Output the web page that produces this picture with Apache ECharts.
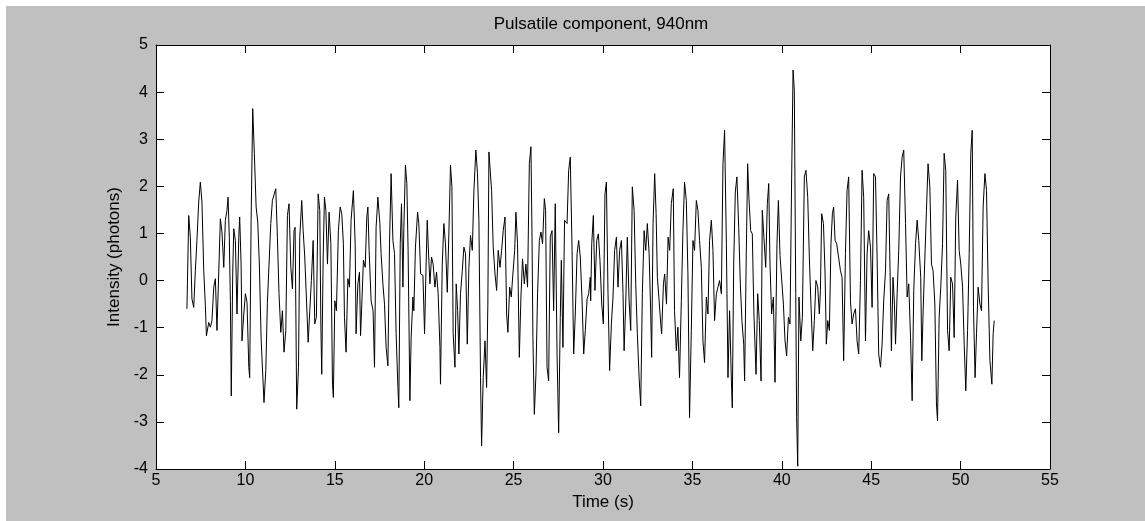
<!DOCTYPE html>
<html>
<head>
<meta charset="utf-8">
<script src="https://cdn.jsdelivr.net/npm/echarts@6/dist/echarts.min.js"></script>
<style>
  html, body { margin: 0; padding: 0; background: #ffffff; }
  #chart { position: absolute; left: 6px; top: 6px; width: 1139px; height: 515px; background: #c0c0c0; }
</style>
</head>
<body>
<div id="chart"></div>
<script>
// values
const titleText = 'Pulsatile component, 940nm'
const xName = 'Time (s)'
const yName = 'Intensity (photons)'
const xRange = [5, 55]
const yRange = [-4, 5]

// time (s)
const timeS = [
  6.73, 6.83, 6.92, 7.01, 7.11, 7.20, 7.29, 7.39, 7.48, 7.57, 7.67, 7.76, 7.82, 7.95, 8.04, 8.13, 8.23, 8.32, 8.41, 8.51,
  8.60, 8.69, 8.79, 8.88, 8.97, 9.03, 9.10, 9.16, 9.21, 9.29, 9.35, 9.44, 9.53, 9.63, 9.68, 9.76, 9.81, 9.91, 10.00, 10.09,
  10.19, 10.24, 10.32, 10.41, 10.50, 10.60, 10.69, 10.78, 10.88,
  11.04, 11.14, 11.23, 11.32, 11.42, 11.51, 11.70, 11.79, 11.88, 11.98, 12.07, 12.16, 12.26, 12.35, 12.44, 12.54, 12.63, 12.72, 12.78, 12.82,
  12.87, 12.97, 13.04, 13.15, 13.23, 13.32, 13.41, 13.51, 13.60, 13.69, 13.79, 13.88, 13.97, 14.07, 14.16, 14.22, 14.27, 14.35, 14.42, 14.50,
  14.59, 14.68, 14.78, 14.87, 14.92, 15.00, 15.09, 15.20, 15.30, 15.39, 15.48, 15.54,
  15.63, 15.73, 15.82, 15.91, 16.04, 16.14, 16.19, 16.29, 16.38, 16.44, 16.51, 16.60, 16.70, 16.79, 16.85, 16.92, 17.03, 17.14, 17.22, 17.31,
  17.41, 17.52, 17.59, 17.69, 17.78, 17.87, 17.97, 18.06, 18.15, 18.25, 18.34, 18.43, 18.53, 18.58, 18.66, 18.73, 18.81, 18.86, 18.95, 19.03,
  19.10, 19.20, 19.27, 19.37, 19.42, 19.51, 19.63, 19.70, 19.80, 19.93, 20.02, 20.11,
  20.17, 20.22, 20.32, 20.41, 20.50, 20.60, 20.69, 20.78, 20.88, 20.91, 21.01, 21.10, 21.19, 21.29, 21.38, 21.47, 21.55, 21.62, 21.72, 21.79,
  21.87, 21.94, 22.03, 22.13, 22.22, 22.31, 22.41, 22.50, 22.59, 22.69, 22.78, 22.89, 22.98, 23.06, 23.15, 23.21, 23.30, 23.40, 23.49, 23.56,
  23.62, 23.69, 23.77, 23.86, 23.96, 24.05, 24.14, 24.24, 24.33, 24.42, 24.52, 24.61, 24.68,
  24.72, 24.78, 24.87, 24.96, 25.06, 25.13, 25.22, 25.32, 25.41, 25.50, 25.60, 25.69, 25.78, 25.88, 25.97, 26.03, 26.08, 26.16, 26.25, 26.34,
  26.44, 26.53, 26.62, 26.72, 26.79, 26.87, 26.96, 27.05, 27.15, 27.24, 27.33, 27.43, 27.52, 27.61, 27.67, 27.76, 27.85, 27.99, 28.08, 28.17,
  28.27, 28.36, 28.45, 28.55, 28.64, 28.73, 28.83, 28.92, 29.01, 29.11, 29.20, 29.29,
  29.31, 29.37, 29.46, 29.55, 29.65, 29.74, 29.83, 29.93, 30.02, 30.11, 30.19, 30.28, 30.37, 30.47, 30.56, 30.65, 30.75, 30.84, 30.93, 31.03,
  31.12, 31.18, 31.27, 31.36, 31.46, 31.55, 31.64, 31.74, 31.83, 31.92, 32.02, 32.11, 32.20, 32.30, 32.39, 32.48, 32.58, 32.67, 32.72, 32.80,
  32.89, 32.97, 33.04, 33.14, 33.23, 33.28, 33.38, 33.45, 33.55, 33.64, 33.73, 33.82,
  33.93, 34.00, 34.10, 34.19, 34.28, 34.38, 34.47, 34.56, 34.66, 34.75, 34.84, 34.94, 35.03, 35.12, 35.22, 35.31, 35.40, 35.50, 35.59, 35.68,
  35.78, 35.87, 35.96, 36.06, 36.15, 36.24, 36.34, 36.43, 36.52, 36.62, 36.71, 36.80, 36.90, 36.99, 37.08, 37.18, 37.23, 37.31, 37.40, 37.49,
  37.59, 37.68, 37.77, 37.87, 37.92, 38.01, 38.09, 38.16, 38.26, 38.35, 38.44,
  38.50, 38.56, 38.65, 38.74, 38.84, 38.91, 39.00, 39.10, 39.19, 39.27, 39.34, 39.43, 39.53, 39.62, 39.73, 39.81, 39.90, 39.99, 40.09, 40.18,
  40.27, 40.37, 40.46, 40.55, 40.63, 40.70, 40.78, 40.83, 40.89, 40.96, 41.06, 41.15, 41.26, 41.35, 41.45, 41.54, 41.63, 41.73, 41.82, 41.91,
  42.01, 42.10, 42.16, 42.23, 42.33, 42.42, 42.49, 42.57, 42.66, 42.75, 42.83, 42.90, 42.98, 43.07,
  43.18, 43.28, 43.37, 43.46, 43.56, 43.65, 43.74, 43.84, 43.93, 44.02, 44.12, 44.21, 44.30, 44.40, 44.49, 44.58, 44.68, 44.77, 44.86, 44.96,
  45.05, 45.14, 45.24, 45.33, 45.42, 45.52, 45.61, 45.70, 45.80, 45.89, 45.98, 46.08, 46.13, 46.22, 46.30, 46.36, 46.45, 46.54, 46.64, 46.73,
  46.82, 46.92, 47.01, 47.10, 47.20, 47.29, 47.38, 47.48, 47.57, 47.66,
  47.77, 47.83, 47.90, 47.99, 48.09, 48.18, 48.28, 48.37, 48.46, 48.56, 48.65, 48.71, 48.80, 48.89, 48.99, 49.08, 49.17, 49.27, 49.36, 49.45,
  49.55, 49.64, 49.73, 49.83, 49.92, 50.01, 50.11, 50.20, 50.29, 50.39, 50.48, 50.57, 50.65, 50.72, 50.81, 50.89, 50.98, 51.08, 51.17, 51.26,
  51.36, 51.45, 51.54, 51.64, 51.75, 51.82, 51.88
]

// intensity (photons)
const intensity = [
  -0.60, 1.38, 0.92, -0.39, -0.57, 0.21, 0.85, 1.67, 2.09, 1.67, 0.21, -0.53, -1.17, -0.89, -0.99, -0.85, -0.14, 0.04, -1.06, 0.18,
  1.31, 1.03, 0.28, 1.28, 1.49, 1.77, 0.92, -0.43, -2.45, 0.14, 1.10, 0.85, -0.71, 0.92, 1.35, 0.35, -1.28, -0.71, -0.28, -0.46,
  -1.84, -2.06, 1.28, 3.65, 2.70, 1.56, 1.24, 0.35, -1.24,
  -2.59, -1.91, -0.46, -0.50, 1.21, 1.70, 1.95, 0.92, -0.28, -1.10, -0.64, -1.52, -1.06, 1.38, 1.63, 0.28, -0.18, 1.06, 1.13, -0.57,
  -2.73, -1.84, 0.92, 1.70, 1.06, 0.50, -0.35, -1.31, -0.64, 0.00, 0.85, -0.92, -0.78, 1.84, 1.49, -0.92, -1.99, 0.50, 1.77, 1.49,
  0.35, 1.45, 0.78, -2.20, -2.48, -0.43, -0.64, 1.06, 1.56, 1.42, 0.78, -0.78,
  -1.52, 0.04, -0.14, 1.28, 1.91, 0.78, -1.13, -0.07, 0.18, -1.17, -0.50, 0.43, 0.28, 1.35, 1.56, 0.64, -0.43, -0.64, -1.84, 1.13,
  1.77, 1.21, 0.57, -0.07, -0.50, -1.42, -1.81, 0.78, 2.27, 0.85, 0.57, -1.13, -2.27, -2.70, 0.78, 1.63, -0.14, 1.10, 2.45, 2.06,
  0.64, -2.55, -1.21, -0.35, -0.64, 0.71, 1.45, 1.21, 0.14, 0.11, -1.13, 0.39,
  1.28, 0.78, -0.07, 0.50, 0.35, -0.14, 0.18, -0.28, -1.42, -2.20, 0.35, 1.21, 0.78, -0.25, 0.99, 2.45, 1.99, -1.13, -1.84, -0.07,
  -0.64, -1.56, -0.28, 0.21, 0.71, 0.57, -1.35, 0.28, 0.96, 0.64, 1.91, 2.77, 2.27, 1.28, -2.06, -3.51, -2.06, -1.28, -2.27, -0.50,
  2.73, 2.77, 1.91, 0.71, 0.14, -0.21, 0.64, 0.28, 0.64, 1.06, 1.35, -0.71, -1.10,
  -1.13, -0.14, -0.35, 0.14, 0.64, 1.45, 0.78, -1.63, -0.35, 0.46, -0.07, 0.35, -0.14, 2.48, 2.84, 0.92, -1.21, -2.84, -1.99, -0.28,
  0.85, 1.03, 0.78, 1.74, 1.49, -1.84, -2.13, 0.92, 1.06, -0.64, 1.63, -1.56, -3.23, -0.78, 0.43, -1.42, 1.28, 1.21, 2.34, 2.62,
  0.64, -1.56, -0.71, 0.57, 0.85, 0.50, -0.43, -1.56, -1.06, -0.39, -0.28, 0.07,
  -0.43, 0.78, 1.38, -0.21, 0.85, 0.99, 0.43, -0.50, -0.92, 1.84, 2.09, -0.28, -1.91, -0.92, -0.35, 0.64, 0.92, -0.14, 0.64, 0.85,
  -0.28, -1.49, -0.50, 0.92, -0.43, -1.06, 1.99, 1.49, -0.07, -1.13, -2.06, -2.66, -0.28, 1.06, 0.64, 1.21, 0.57, -0.71, -1.63, 1.21,
  2.27, 1.42, 0.07, -0.43, -0.92, -1.13, -0.07, 0.14, -0.50, 0.92, 0.64, 1.63,
  1.95, -0.64, -1.49, -0.99, -2.06, -0.43, 1.06, 2.09, 1.70, 0.14, -2.91, -1.06, 0.85, 0.64, 1.70, 1.49, 0.85, 0.28, -1.28, -1.74,
  -0.35, -0.71, 0.85, 1.28, 0.64, -0.85, -0.28, -0.14, 0.00, -0.28, 2.48, 3.19, 0.78, -2.06, -0.64, -2.13, -2.70, 0.35, 1.88, 2.20,
  1.13, -0.07, -0.85, -1.35, -2.13, 0.50, 2.48, 1.77, 1.06, 0.99, -0.71,
  -0.71, -1.99, -0.28, -0.85, -2.13, 1.49, 0.92, 0.28, 1.63, 2.06, 0.35, -0.71, -0.35, -2.16, 0.78, 1.70, 0.53, 0.50, -0.50, -1.28,
  -1.60, -0.78, -0.92, 2.16, 4.47, 4.04, -0.28, -2.91, -3.94, -0.35, -1.28, -0.78, 2.20, 2.34, 1.77, 0.50, -0.50, -1.49, -0.85, 0.00,
  -0.14, -0.71, -0.21, 1.42, 1.21, 0.14, -1.35, -0.85, -1.06, 0.78, 1.42, 1.56, 0.85, 0.78,
  0.78, 0.21, 0.07, -1.70, 0.57, 1.91, 2.20, -0.43, -0.92, -0.71, -0.60, -1.28, -1.56, 0.00, 2.34, 1.77, -1.28, 0.57, 1.06, 0.71,
  -0.57, 2.27, 2.20, 0.50, -1.56, -1.84, -1.35, -0.43, 0.21, 1.70, 1.84, -0.35, -1.49, 0.07, -0.50, -1.35, -0.28, 0.64, 2.20, 2.62,
  2.77, 1.21, -0.35, -0.07, -1.21, -2.55, -0.21, 0.78, 1.28, 0.85,
  0.07, -1.70, -0.71, 0.35, 1.49, 2.48, 1.99, 0.35, 0.21, -0.50, -2.62, -2.98, -0.78, -0.14, 0.78, 2.70, 2.34, -1.06, -1.49, 0.07,
  -0.07, -1.21, 1.35, 2.13, 0.64, 0.35, -0.14, -1.35, -2.34, -1.06, 0.57, 2.70, 3.19, -0.57, -2.06, -1.13, -0.14, -0.50, -0.64, 1.56,
  2.27, 1.91, -0.07, -1.70, -2.20, -1.13, -0.85
]

const seriesData = timeS.map((t, i) => [t, intensity[i]])

const font = 'Liberation Sans, Arial, Helvetica, sans-serif'
const tickStyle = { show: true, inside: true, length: 8, lineStyle: { color: '#000', width: 1 } }
const lineCol = { color: '#000', width: 1 }

const chart = echarts.init(document.getElementById('chart'))
chart.setOption({
  animation: false,
  backgroundColor: '#c0c0c0',
  graphic: [{
    type: 'text',
    x: 595,
    y: 18,
    style: {
      text: titleText,
      font: '17px ' + font,
      fill: '#000',
      textAlign: 'center',
      textVerticalAlign: 'middle'
    }
  }],
  grid: {
    left: 150,
    top: 39,
    width: 894,
    height: 424,
    show: true,
    backgroundColor: '#ffffff',
    borderWidth: 0
  },
  xAxis: [{
    type: 'value',
    min: xRange[0],
    max: xRange[1],
    interval: 5,
    position: 'bottom',
    name: xName,
    nameLocation: 'middle',
    nameGap: 25,
    nameTextStyle: { color: '#000', fontSize: 17, fontFamily: font },
    axisLine: { show: true, onZero: false, lineStyle: lineCol },
    axisTick: tickStyle,
    axisLabel: { color: '#000', fontSize: 16, fontFamily: font, margin: 4 },
    splitLine: { show: false }
  }, {
    type: 'value',
    min: xRange[0],
    max: xRange[1],
    interval: 5,
    position: 'top',
    axisLine: { show: true, onZero: false, lineStyle: lineCol },
    axisTick: tickStyle,
    axisLabel: { show: false },
    splitLine: { show: false }
  }],
  yAxis: [{
    type: 'value',
    min: yRange[0],
    max: yRange[1],
    interval: 1,
    position: 'left',
    name: yName,
    nameLocation: 'middle',
    nameGap: 31,
    nameTextStyle: { color: '#000', fontSize: 17, fontFamily: font },
    axisLine: { show: true, onZero: false, lineStyle: lineCol },
    axisTick: tickStyle,
    axisLabel: { color: '#000', fontSize: 16, fontFamily: font, margin: 8 },
    splitLine: { show: false }
  }, {
    type: 'value',
    min: yRange[0],
    max: yRange[1],
    interval: 1,
    position: 'right',
    axisLine: { show: true, onZero: false, lineStyle: lineCol },
    axisTick: tickStyle,
    axisLabel: { show: false },
    splitLine: { show: false }
  }],
  series: [{
    type: 'line',
    xAxisIndex: 0,
    yAxisIndex: 0,
    data: seriesData,
    showSymbol: false,
    symbol: 'none',
    lineStyle: { color: '#000', width: 1 },
    clip: true
  }]
})
</script>
</body>
</html>
